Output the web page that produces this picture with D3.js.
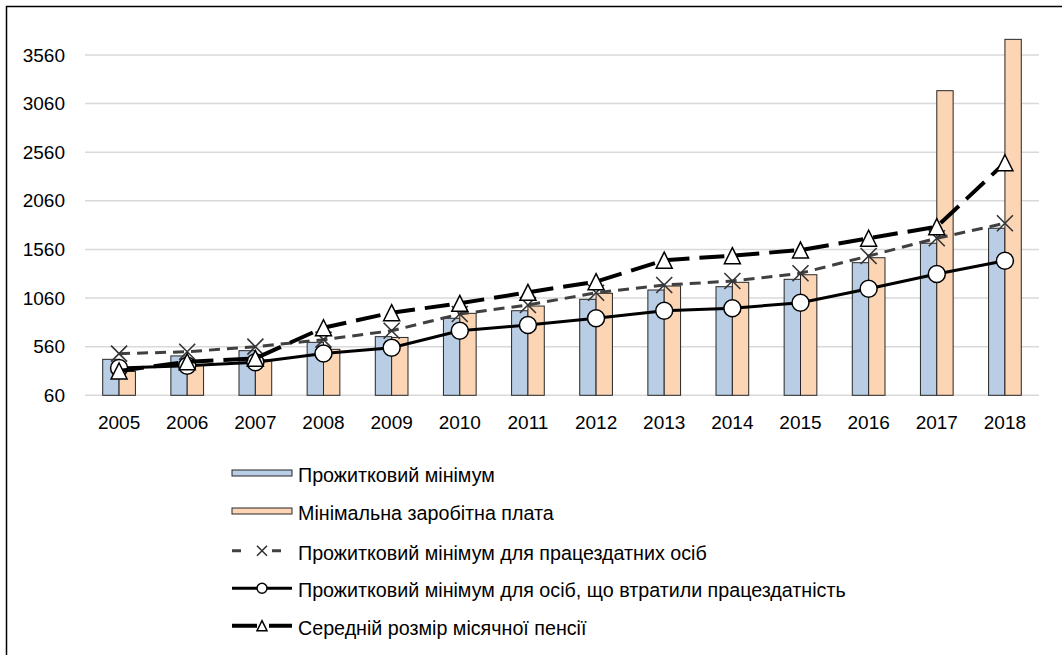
<!DOCTYPE html>
<html>
<head>
<meta charset="utf-8">
<script src="https://cdn.jsdelivr.net/npm/d3@7"></script>
<style>
  body { margin: 0; background: #fff; }
  svg { display: block; font-family: "Liberation Sans", Arial, sans-serif; }
</style>
</head>
<body>
<svg id="chart" width="1062" height="655"></svg>
<script>
const years = ["2005", "2006", "2007", "2008", "2009", "2010", "2011", "2012", "2013", "2014", "2015", "2016", "2017", "2018"];
const subsistenceMin = [430, 465, 519, 605, 663, 852, 930, 1047, 1143, 1177, 1253, 1424, 1624, 1778];
const minWage = [305, 372, 425, 533, 655, 903, 978, 1109, 1184, 1222, 1300, 1475, 3193, 3721];
const minAbleBodied = [488, 508, 560, 632, 724, 896, 989, 1115, 1194, 1235, 1315, 1493, 1675, 1829];
const minDisabled = [340, 365, 400, 490, 550, 724, 783, 852, 930, 955, 1012, 1156, 1308, 1444];
const avgPension = [310, 405, 440, 755, 910, 1006, 1119, 1229, 1450, 1496, 1554, 1675, 1794, 2452];
const yTicks = [60, 560, 1060, 1560, 2060, 2560, 3060, 3560];

const legendLabels = [
  "Прожитковий мінімум",
  "Мінімальна заробітна плата",
  "Прожитковий мінімум для працездатних осіб",
  "Прожитковий мінімум для осіб, що втратили працездатність",
  "Середній розмір місячної пенсії"
];

const blue = "#b9cde5", orange = "#fcd5b5";
const fontSize = 19;
const legendFontSize = 19.7;

const svg = d3.select("#chart");

// outer frame (right and bottom edges fall outside the picture)
svg.append("rect")
  .attr("x", 6.5).attr("y", 6.5)
  .attr("width", 1200).attr("height", 800)
  .attr("fill", "none").attr("stroke", "#000").attr("stroke-width", 1.5);

const x = d3.scaleBand().domain(years).range([85, 1039]);
const y = d3.scaleLinear().domain([60, 3560]).range([395.3, 55]);
const barW = x.bandwidth() * 0.24;
const cx = d => x(d) + x.bandwidth() / 2;

// gridlines
svg.append("g")
  .selectAll("line")
  .data(yTicks)
  .join("line")
  .attr("x1", 85).attr("x2", 1039)
  .attr("y1", d => y(d)).attr("y2", d => y(d))
  .attr("stroke", "#d9d9d9").attr("stroke-width", 1.5);

// y axis labels
const yAxis = svg.append("g")
  .attr("transform", "translate(65,0)")
  .call(d3.axisLeft(y).tickValues(yTicks).tickSize(0).tickPadding(0).tickFormat(d3.format("d")));
yAxis.select(".domain").remove();
yAxis.selectAll("text")
  .attr("font-size", fontSize).attr("font-family", "Liberation Sans, Arial").attr("fill", "#000");

// x axis labels
const xAxis = svg.append("g")
  .attr("transform", "translate(0,395.3)")
  .call(d3.axisBottom(x).tickSize(0).tickPadding(20));
xAxis.select(".domain").remove();
xAxis.selectAll("text")
  .attr("font-size", fontSize).attr("font-family", "Liberation Sans, Arial").attr("fill", "#000");

// bars
const bars = svg.append("g").attr("stroke", "#262626").attr("stroke-width", 1);
bars.selectAll("rect.pm")
  .data(years)
  .join("rect")
  .attr("class", "pm")
  .attr("x", d => cx(d) - barW)
  .attr("y", (d, i) => y(subsistenceMin[i]))
  .attr("width", barW)
  .attr("height", (d, i) => y(60) - y(subsistenceMin[i]))
  .attr("fill", blue);
bars.selectAll("rect.mw")
  .data(years)
  .join("rect")
  .attr("class", "mw")
  .attr("x", d => cx(d))
  .attr("y", (d, i) => y(minWage[i]))
  .attr("width", barW)
  .attr("height", (d, i) => y(60) - y(minWage[i]))
  .attr("fill", orange);

const line = d3.line().x((v, i) => cx(years[i])).y(v => y(v));

const xMark = s => `M${-s},${-s}L${s},${s}M${-s},${s}L${s},${-s}`;
const triMark = (w, h) => `M0,${-h / 2}L${w / 2},${h / 2}L${-w / 2},${h / 2}Z`;

// able-bodied: dashed grey with X markers
svg.append("path")
  .datum(minAbleBodied)
  .attr("d", line)
  .attr("fill", "none").attr("stroke", "#404040")
  .attr("stroke-width", 3).attr("stroke-dasharray", "11,7");
svg.append("g").selectAll("path")
  .data(minAbleBodied)
  .join("path")
  .attr("transform", (v, i) => `translate(${cx(years[i])},${y(v)})`)
  .attr("d", xMark(8))
  .attr("stroke", "#333").attr("stroke-width", 1.6).attr("fill", "none");

// disabled: solid black with circles
svg.append("path")
  .datum(minDisabled)
  .attr("d", line)
  .attr("fill", "none").attr("stroke", "#000").attr("stroke-width", 3);
svg.append("g").selectAll("circle")
  .data(minDisabled)
  .join("circle")
  .attr("cx", (v, i) => cx(years[i]))
  .attr("cy", v => y(v))
  .attr("r", 8.5)
  .attr("fill", "#fff").attr("stroke", "#000").attr("stroke-width", 1.5);

// pension: long dash with triangles
svg.append("path")
  .datum(avgPension)
  .attr("d", line)
  .attr("fill", "none").attr("stroke", "#000")
  .attr("stroke-width", 4).attr("stroke-dasharray", "25,10");
svg.append("g").selectAll("path")
  .data(avgPension)
  .join("path")
  .attr("transform", (v, i) => `translate(${cx(years[i])},${y(v)})`)
  .attr("d", triMark(16, 16))
  .attr("fill", "#fff").attr("stroke", "#000").attr("stroke-width", 1.5);

// legend
const legendY = [473, 511, 550.7, 588.3, 625.7];
const lg = svg.append("g");
legendLabels.forEach((label, i) => {
  const g = lg.append("g").attr("transform", `translate(0,${legendY[i]})`);
  if (i < 2) {
    g.append("rect")
      .attr("x", 232).attr("y", -3).attr("width", 60).attr("height", 6)
      .attr("fill", i === 0 ? blue : orange)
      .attr("stroke", "#262626").attr("stroke-width", 1);
  } else if (i === 2) {
    g.append("line").attr("x1", 232).attr("x2", 292)
      .attr("stroke", "#404040").attr("stroke-width", 3).attr("stroke-dasharray", "9,31,9,100");
    g.append("path").attr("transform", "translate(262,0)").attr("d", xMark(5))
      .attr("stroke", "#333").attr("stroke-width", 1.6);
  } else if (i === 3) {
    g.append("line").attr("x1", 232).attr("x2", 292)
      .attr("stroke", "#000").attr("stroke-width", 3);
    g.append("circle").attr("cx", 262).attr("r", 5)
      .attr("fill", "#fff").attr("stroke", "#000").attr("stroke-width", 1.5);
  } else {
    g.append("line").attr("x1", 232).attr("x2", 292)
      .attr("stroke", "#000").attr("stroke-width", 4).attr("stroke-dasharray", "25,12,25,100");
    g.append("path").attr("transform", "translate(262,0)").attr("d", triMark(10, 10))
      .attr("fill", "#fff").attr("stroke", "#000").attr("stroke-width", 1.5);
  }
  g.append("text")
    .attr("x", 298).attr("y", 2).attr("dy", "0.35em")
    .attr("font-size", legendFontSize).attr("fill", "#000")
    .text(label);
});
</script>
</body>
</html>
